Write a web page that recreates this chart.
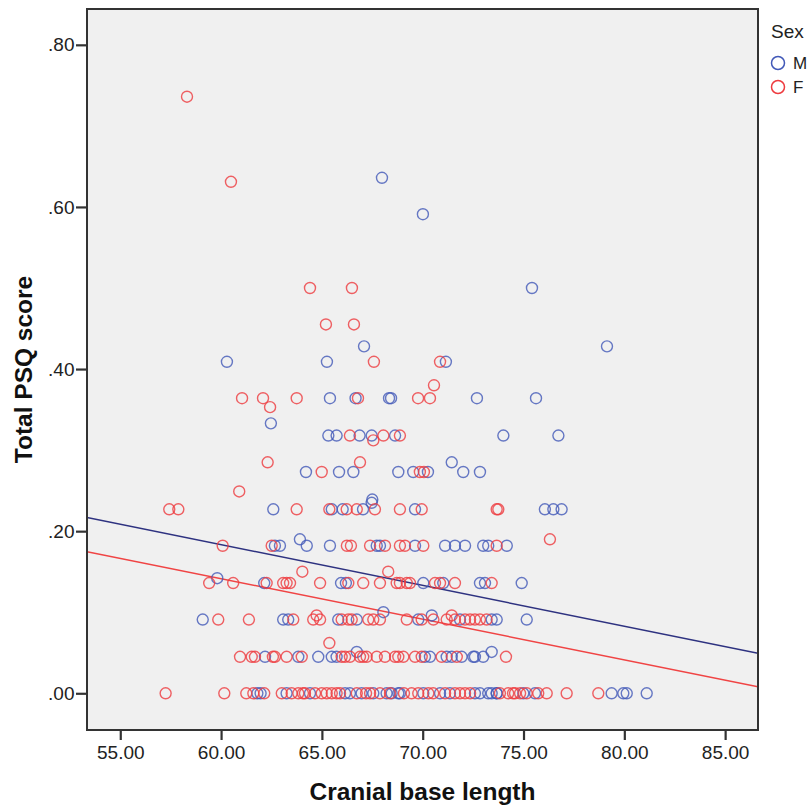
<!DOCTYPE html>
<html>
<head>
<meta charset="utf-8">
<script src="https://cdn.jsdelivr.net/npm/d3@7"></script>
<style>
  body { margin: 0; background: #fff; }
  svg { display: block; font-family: Arial, 'Liberation Sans', sans-serif; }
  .tick text { fill: #222; }
</style>
</head>
<body>
<div class="container"></div>
<script>
// [cranial base length, total PSQ score]
const malePoints = [
  [61.8, 0], [61.96, 0], [63.25, 0], [64.41, 0], [66.15, 0], [66.39, 0], [66.97, 0], [67.55, 0],
  [68.21, 0], [68.46, 0], [68.79, 0], [68.87, 0], [70.03, 0], [70.86, 0], [71.35, 0], [72.59, 0],
  [72.84, 0], [73.25, 0], [73.42, 0], [73.67, 0], [73.67, 0], [74.99, 0], [75.57, 0], [79.37, 0],
  [79.95, 0], [80.12, 0], [81.11, 0],
  [62.18, 0.045], [63.83, 0.045], [64.82, 0.045], [65.49, 0.045], [65.73, 0.045], [70.11, 0.045],
  [70.36, 0.045], [71.19, 0.045], [71.44, 0.045], [71.93, 0.045], [72.51, 0.045], [72.59, 0.045],
  [73.0, 0.045], [66.73, 0.051], [73.42, 0.051],
  [59.09, 0.091], [63.08, 0.091], [63.33, 0.091], [65.81, 0.091], [66.73, 0.091], [69.78, 0.091],
  [71.85, 0.091], [73.42, 0.091], [73.67, 0.091], [75.16, 0.091], [68.05, 0.1], [70.45, 0.096],
  [62.14, 0.136], [65.95, 0.136], [66.19, 0.136], [70.03, 0.136], [71.02, 0.136], [72.84, 0.136],
  [73.09, 0.136], [74.91, 0.136], [59.81, 0.142],
  [62.67, 0.182], [62.92, 0.182], [64.25, 0.182], [65.4, 0.182], [67.72, 0.182], [67.88, 0.182],
  [69.62, 0.182], [71.11, 0.182], [71.6, 0.182], [72.1, 0.182], [73.0, 0.182], [73.25, 0.182],
  [74.17, 0.182], [63.91, 0.19],
  [62.59, 0.227], [65.49, 0.227], [66.03, 0.227], [67.04, 0.227], [69.62, 0.227], [76.06, 0.227],
  [76.48, 0.227], [76.89, 0.227], [67.5, 0.239], [67.47, 0.235],
  [64.21, 0.273], [65.85, 0.273], [66.56, 0.273], [68.79, 0.273], [69.53, 0.273], [70.26, 0.273],
  [72.01, 0.273], [72.84, 0.273], [71.44, 0.285],
  [65.32, 0.318], [65.73, 0.318], [66.87, 0.318], [67.47, 0.318], [68.63, 0.318], [74.0, 0.318],
  [76.73, 0.318], [62.47, 0.333],
  [65.4, 0.364], [66.67, 0.364], [68.33, 0.364], [68.43, 0.364], [72.69, 0.364], [75.62, 0.364],
  [60.29, 0.409], [65.25, 0.409], [71.15, 0.409], [67.09, 0.428], [79.14, 0.428],
  [75.42, 0.5], [70.01, 0.591], [67.98, 0.636]
];

const femalePoints = [
  [57.25, 0], [60.16, 0], [61.25, 0], [61.6, 0], [62.14, 0], [63.01, 0], [63.5, 0], [63.83, 0],
  [64.06, 0], [64.16, 0], [64.66, 0], [64.99, 0], [65.24, 0], [65.49, 0], [65.73, 0], [65.9, 0],
  [66.73, 0], [67.19, 0], [67.39, 0], [67.88, 0], [68.38, 0], [69.07, 0], [69.45, 0], [69.78, 0],
  [70.28, 0], [70.52, 0], [71.11, 0], [71.6, 0], [71.85, 0], [72.1, 0], [72.35, 0], [73.83, 0],
  [74.24, 0], [74.48, 0], [74.58, 0], [74.83, 0], [75.16, 0], [75.73, 0], [76.15, 0], [77.14, 0],
  [78.71, 0],
  [60.94, 0.045], [61.52, 0.045], [61.68, 0.045], [62.57, 0.045], [62.67, 0.045], [63.25, 0.045],
  [64.0, 0.045], [65.98, 0.045], [66.15, 0.045], [66.39, 0.045], [66.89, 0.045], [67.05, 0.045],
  [67.22, 0.045], [67.72, 0.045], [68.13, 0.045], [68.63, 0.045], [68.79, 0.045], [69.04, 0.045],
  [69.62, 0.045], [69.95, 0.045], [70.94, 0.045], [71.69, 0.045], [74.13, 0.045], [65.37, 0.062],
  [59.86, 0.091], [61.38, 0.091], [63.58, 0.091], [64.57, 0.091], [64.91, 0.091], [65.98, 0.091],
  [66.31, 0.091], [66.48, 0.091], [67.3, 0.091], [67.55, 0.091], [67.88, 0.091], [69.21, 0.091],
  [69.95, 0.091], [70.53, 0.091], [71.19, 0.091], [71.6, 0.091], [72.1, 0.091], [72.35, 0.091],
  [72.59, 0.091], [72.84, 0.091], [73.17, 0.091], [64.74, 0.096], [71.44, 0.096],
  [59.41, 0.136], [60.6, 0.136], [62.26, 0.136], [63.08, 0.136], [63.25, 0.136], [63.42, 0.136],
  [64.91, 0.136], [66.31, 0.136], [67.05, 0.136], [67.88, 0.136], [68.71, 0.136], [68.87, 0.136],
  [69.21, 0.136], [69.37, 0.136], [70.61, 0.136], [70.86, 0.136], [71.6, 0.136], [73.42, 0.136],
  [64.03, 0.15], [68.29, 0.15],
  [60.08, 0.182], [62.51, 0.182], [66.24, 0.182], [66.44, 0.182], [67.39, 0.182], [68.13, 0.182],
  [68.87, 0.182], [69.12, 0.182], [70.03, 0.182], [73.67, 0.182], [76.31, 0.19],
  [57.43, 0.227], [57.88, 0.227], [63.75, 0.227], [65.37, 0.227], [66.23, 0.227], [66.73, 0.227],
  [67.63, 0.227], [68.87, 0.227], [69.95, 0.227], [73.67, 0.227], [73.75, 0.227], [60.9, 0.249],
  [64.99, 0.273], [69.86, 0.273], [70.06, 0.273], [62.31, 0.285], [66.89, 0.285],
  [66.39, 0.318], [68.05, 0.318], [68.87, 0.318], [67.55, 0.312], [62.43, 0.353],
  [61.04, 0.364], [62.08, 0.364], [63.75, 0.364], [66.79, 0.364], [69.77, 0.364], [70.36, 0.364],
  [70.56, 0.38],
  [67.58, 0.409], [70.86, 0.409],
  [65.2, 0.455], [66.59, 0.455],
  [64.41, 0.5], [66.49, 0.5],
  [60.49, 0.631], [58.31, 0.736]
];

// fit lines: [intercept, slope]
const maleFit = [0.4852, -0.00503];
const femaleFit = [0.442, -0.00501];

const xTicks = [55, 60, 65, 70, 75, 80, 85];
const yTicks = [0, 0.2, 0.4, 0.6, 0.8];
const sexes = ['M', 'F'];

const width = 809;
const height = 806;
const margin = { top: 9, right: 51, bottom: 76, left: 87 };

const colors = { M: '#4259b8', F: '#ee3b3f' };
const lineColors = { M: '#2e3280', F: '#f04444' };

const svg = d3
  .select('.container')
  .append('svg')
  .attr('width', width)
  .attr('height', height);

const xScale = d3
  .scaleLinear()
  .domain([53.35, 86.63])
  .range([margin.left, width - margin.right]);

const yScale = d3
  .scaleLinear()
  .domain([-0.0453, 0.8442])
  .range([height - margin.bottom, margin.top]);

svg
  .append('rect')
  .attr('x', margin.left)
  .attr('y', margin.top)
  .attr('width', width - margin.left - margin.right)
  .attr('height', height - margin.top - margin.bottom)
  .attr('fill', '#f0f0f0');

svg
  .append('clipPath')
  .attr('id', 'plot-clip')
  .append('rect')
  .attr('x', margin.left)
  .attr('y', margin.top)
  .attr('width', width - margin.left - margin.right)
  .attr('height', height - margin.top - margin.bottom);

const xAxis = d3
  .axisBottom(xScale)
  .tickValues(xTicks)
  .tickFormat(d3.format('.2f'))
  .tickSize(10)
  .tickSizeOuter(0)
  .tickPadding(5.5);

const yAxis = d3
  .axisLeft(yScale)
  .tickValues(yTicks)
  .tickFormat((d) => d3.format('.2f')(d).replace(/^0/, ''))
  .tickSize(11)
  .tickSizeOuter(0)
  .tickPadding(1.5);

const gx = svg
  .append('g')
  .attr('id', 'x-axis')
  .attr('transform', `translate(0, ${height - margin.bottom})`)
  .call(xAxis);

const gy = svg
  .append('g')
  .attr('id', 'y-axis')
  .attr('transform', `translate(${margin.left}, 0)`)
  .call(yAxis);

[gx, gy].forEach((g) => {
  g.select('.domain').remove();
  g.selectAll('.tick line').attr('stroke', '#333').attr('stroke-width', 2.2);
  g.selectAll('.tick text').attr('font-size', 19).attr('font-family', 'Arial, Liberation Sans, sans-serif');
});

const points = [
  ...malePoints.map((d) => ({ sex: 'M', x: d[0], y: d[1] })),
  ...femalePoints.map((d) => ({ sex: 'F', x: d[0], y: d[1] })),
];

const fits = [
  { sex: 'M', fit: maleFit },
  { sex: 'F', fit: femaleFit },
];

const plot = svg.append('g').attr('clip-path', 'url(#plot-clip)');

plot
  .selectAll('line.fit')
  .data(fits)
  .enter()
  .append('line')
  .attr('class', 'fit')
  .attr('x1', xScale(xScale.domain()[0]))
  .attr('x2', xScale(xScale.domain()[1]))
  .attr('y1', (d) => yScale(d.fit[0] + d.fit[1] * xScale.domain()[0]))
  .attr('y2', (d) => yScale(d.fit[0] + d.fit[1] * xScale.domain()[1]))
  .attr('stroke', (d) => lineColors[d.sex])
  .attr('stroke-width', 1.5);

plot
  .selectAll('circle')
  .data(points)
  .enter()
  .append('circle')
  .attr('cx', (d) => xScale(d.x))
  .attr('cy', (d) => yScale(d.y))
  .attr('r', 5.5)
  .attr('fill', 'none')
  .attr('stroke', (d) => colors[d.sex])
  .attr('stroke-opacity', 0.8)
  .attr('stroke-width', 1.4);

// frame of the plot area
svg
  .append('rect')
  .attr('x', margin.left)
  .attr('y', margin.top)
  .attr('width', width - margin.left - margin.right)
  .attr('height', height - margin.top - margin.bottom)
  .attr('fill', 'none')
  .attr('stroke', '#333')
  .attr('stroke-width', 2);

svg
  .append('text')
  .attr('x', (margin.left + width - margin.right) / 2)
  .attr('y', 800)
  .attr('text-anchor', 'middle')
  .attr('font-size', 24.5)
  .attr('font-weight', 'bold')
  .attr('fill', '#111')
  .text('Cranial base length');

svg
  .append('text')
  .attr('transform', `translate(32, ${(margin.top + height - margin.bottom) / 2}) rotate(-90)`)
  .attr('text-anchor', 'middle')
  .attr('font-size', 24.5)
  .attr('font-weight', 'bold')
  .attr('fill', '#111')
  .text('Total PSQ score');

const legend = svg.append('g').attr('id', 'legend');

legend
  .append('text')
  .attr('x', 771)
  .attr('y', 38)
  .attr('font-size', 19)
  .attr('fill', '#222')
  .text('Sex');

const items = legend
  .selectAll('g.item')
  .data(sexes)
  .enter()
  .append('g')
  .attr('class', 'item')
  .attr('transform', (d, i) => `translate(778, ${63 + i * 24})`);

items
  .append('circle')
  .attr('r', 6.5)
  .attr('fill', 'none')
  .attr('stroke', (d) => colors[d])
  .attr('stroke-width', 1.5);

items
  .append('text')
  .attr('x', 15)
  .attr('y', 6)
  .attr('font-size', 17)
  .attr('fill', '#222')
  .text((d) => d);
</script>
</body>
</html>
